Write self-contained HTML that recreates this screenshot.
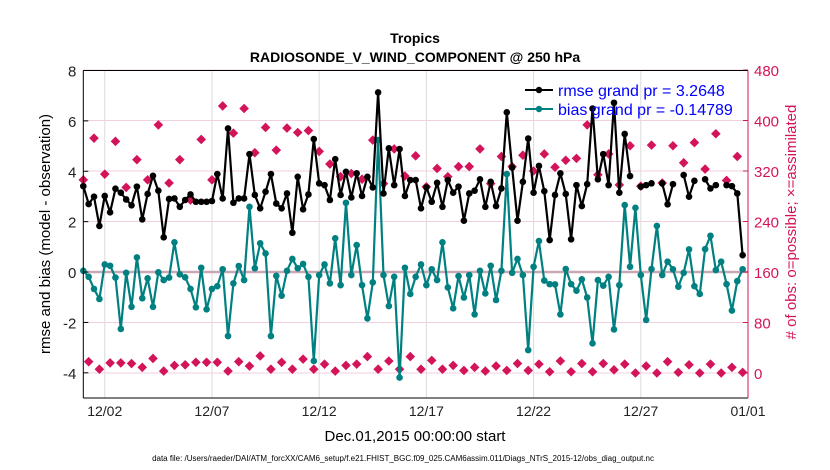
<!DOCTYPE html>
<html><head><meta charset="utf-8"><style>
body{margin:0;background:#fff;}
svg{display:block;font-family:"Liberation Sans",sans-serif;}
</style></head><body>
<svg id="chart" width="830" height="470" viewBox="0 0 830 470" xmlns="http://www.w3.org/2000/svg">
<text x="415" y="43" text-anchor="middle" font-size="14" font-weight="bold">Tropics</text>
<text x="415" y="62" text-anchor="middle" font-size="14" font-weight="bold">RADIOSONDE_V_WIND_COMPONENT @ 250 hPa</text>
<g id="grid"></g>
<g id="marks"></g>
<g id="axes"></g>
<text transform="translate(50,234) rotate(-90)" text-anchor="middle" font-size="15">rmse and bias (model - observation)</text>
<text transform="translate(796,222) rotate(-90)" text-anchor="middle" font-size="15" fill="#d4145a"># of obs: o=possible; ×=assimilated</text>
<text x="415" y="441" text-anchor="middle" font-size="15">Dec.01,2015 00:00:00 start</text>
<text x="403" y="461" text-anchor="middle" font-size="8">data file: /Users/raeder/DAI/ATM_forcXX/CAM6_setup/f.e21.FHIST_BGC.f09_025.CAM6assim.011/Diags_NTrS_2015-12/obs_diag_output.nc</text>
<g>
<line x1="525" y1="90" x2="553" y2="90" stroke="#000" stroke-width="2"/><circle cx="539" cy="90" r="3.2" fill="#000"/>
<text x="558" y="96" font-size="16" fill="#0000ff">rmse grand pr = 3.2648</text>
<line x1="525" y1="109" x2="553" y2="109" stroke="#008080" stroke-width="2"/><circle cx="539" cy="109" r="3.2" fill="#008080"/>
<text x="558" y="115" font-size="16" fill="#0000ff">bias grand pr = -0.14789</text>
</g>
</svg>
<script>
const rmse=[3.41,2.70,2.99,1.83,3.02,2.37,3.31,3.15,2.88,2.65,3.39,2.09,3.10,3.82,3.23,1.38,2.90,2.92,2.59,2.86,3.08,2.79,2.79,2.79,2.82,3.89,2.92,5.70,2.75,2.92,2.92,4.68,3.06,2.53,3.19,3.89,2.72,2.53,3.12,1.56,3.78,2.49,3.08,5.28,3.52,3.45,2.86,4.48,3.06,3.98,2.96,3.92,3.02,3.78,3.36,7.13,3.12,4.91,3.45,4.88,3.02,3.65,3.65,2.53,3.36,2.79,3.54,2.59,3.65,3.15,3.39,2.04,3.12,3.23,3.68,2.59,3.58,2.62,3.32,6.34,4.15,2.04,3.58,5.30,3.15,4.21,3.21,1.27,3.06,3.92,3.10,1.30,3.45,2.62,3.49,6.49,3.68,4.68,3.45,6.72,3.15,5.48,3.81,null,3.39,3.45,3.52,null,3.52,2.69,3.49,null,3.85,2.99,3.62,null,3.68,3.32,3.45,null,3.45,3.41,3.12,0.67];
const bias=[0.05,-0.19,-0.67,-1.07,0.30,0.25,-0.22,-2.26,-0.03,-1.38,0.58,-1.04,-0.25,-1.38,-0.01,-0.32,-0.22,1.18,-0.09,-0.21,-0.67,-1.40,0.17,-1.48,-0.67,-0.56,0.11,-2.54,-0.45,0.24,-0.32,2.59,0.15,1.14,0.74,-2.54,-0.15,-0.94,0.05,0.52,0.15,0.32,-0.19,-3.53,-0.12,0.30,-0.45,1.34,-0.52,2.75,-0.12,1.07,-0.52,-1.84,-0.41,5.24,-0.12,-1.35,-0.19,-4.19,0.17,-0.87,-0.19,0.30,-0.52,0.11,-0.32,1.18,-0.61,-1.44,-0.16,-1.01,-0.12,-1.68,0.05,-0.85,0.25,-1.11,0.05,3.89,-0.03,0.52,-0.12,-3.10,0.21,1.23,-0.34,-0.48,-0.49,-1.68,0.12,-0.48,-0.74,-0.29,-1.01,-2.83,-0.32,-0.54,-0.19,-2.28,-0.52,2.66,0.21,2.55,-0.12,-1.90,0.12,1.83,-0.12,0.41,0.11,-0.58,-0.03,0.90,-0.56,-0.87,0.91,1.44,0.08,0.41,-0.48,-1.53,-0.36,0.11];
const obsPossible=[306,372,315,367,294,338,306,393,301,338,274,370,306,423,380,419,349,389,353,388,381,384,351,331,311,316,307,369,300,355,312,344,295,324,311,327,327,355,300,343,327,345,320,347,326,337,340,393,314,347,298,360,296,361,301,360,333,365,323,379,305,343];
const obsAssim=[18,6,16,16,15,9,23,3,12,13,17,17,17,3,18,11,27,6,17,6,22,6,14,3,12,14,26,6,19,6,26,6,20,6,12,4,9,3,11,4,15,4,14,2,19,2,15,2,15,5,14,0,11,0,18,1,13,0,14,0,9,1];
const leftTicks=[-4,-2,0,2,4,6,8];
const rightTicks=[0,80,160,240,320,400,480];
const dateLabels=["12/02","12/07","12/12","12/17","12/22","12/27","01/01"];
const dateDays=[1,6,11,16,21,26,31];

const X0=83.3,X1=748,T=31,Y0=70.5,Y1=398;
const xS=d=>X0+(X1-X0)*d/T;
const yL=v=>Y0+(Y1-Y0)*(8-v)/13;
const yR=v=>373-(v)*(303/480);
const NS="http://www.w3.org/2000/svg";
function mk(tag,attrs,parent){const e=document.createElementNS(NS,tag);for(const k in attrs)e.setAttribute(k,attrs[k]);parent.appendChild(e);return e;}
const grid=document.getElementById('grid'),marks=document.getElementById('marks'),axes=document.getElementById('axes');
dateDays.forEach((d,i)=>{
  const g=mk('line',{x1:xS(d),x2:xS(d),y1:Y0,y2:Y1,stroke:'#dcdcdc','stroke-width':1},grid);
  
  
  const t=mk('text',{x:xS(d),y:416,'text-anchor':'middle','font-size':14,fill:'#222'},axes);
  t.textContent=dateLabels[i];
  
  
});
rightTicks.forEach(v=>{
  const g=mk('line',{x1:X0,x2:X1,y1:yR(v),y2:yR(v),stroke:'#f2cfe0','stroke-width':1},grid);
  
  
  mk('line',{x1:X1-5,x2:X1,y1:yR(v),y2:yR(v),stroke:'#d4145a'},axes);
  const t=mk('text',{x:X1+6,y:yR(v)+6,'font-size':15,fill:'#d4145a'},axes);
  t.textContent=v;
  
  
});
leftTicks.forEach(v=>{
  mk('line',{x1:X0,x2:X0+5,y1:yL(v),y2:yL(v),stroke:'#000'},axes);
  const t=mk('text',{x:X0-7,y:yL(v)+6,'text-anchor':'end','font-size':15,fill:'#222'},axes);
  t.textContent=v;
  
  
});
const zl=mk('line',{x1:X0,x2:X1,y1:yL(0),y2:yL(0),stroke:'#c8a8b4','stroke-width':2.5},grid);


function diamond(cx,cy,name){
  const r=4.8;
  const p=mk('path',{d:`M${cx} ${cy-r}L${cx+r} ${cy}L${cx} ${cy+r}L${cx-r} ${cy}Z`,fill:'#d4145a'},marks);
  
  
}
obsPossible.forEach((v,j)=>diamond(xS(j/2),yR(v),'obs-possible-marker'));
obsAssim.forEach((v,j)=>diamond(xS((2*j+1)/4),yR(v),'obs-assimilated-marker'));
function series(arr,color,name){
  let d='',pen=false;
  arr.forEach((v,i)=>{if(v===null){pen=false;return;}d+=(pen?'L':'M')+xS(i/4).toFixed(1)+' '+yL(v).toFixed(1);pen=true;});
  const p=mk('path',{d:d,fill:'none',stroke:color,'stroke-width':2.2,'stroke-linejoin':'round'},marks);
  
  
  arr.forEach((v,i)=>{if(v===null)return;
    const c=mk('circle',{cx:xS(i/4),cy:yL(v),r:3.3,fill:color},marks);
    
    
  });
}
series(bias,'#008080','bias');
series(rmse,'#000000','rmse');
const l1=mk('line',{x1:X0,x2:X0,y1:Y0,y2:Y1,stroke:'#000'},axes);


const l2=mk('line',{x1:X0,x2:X1,y1:Y1,y2:Y1,stroke:'#000'},axes);


const l3=mk('line',{x1:X0,x2:X1,y1:Y0,y2:Y0,stroke:'#000'},axes);


const l4=mk('line',{x1:X1,x2:X1,y1:Y0,y2:Y1,stroke:'#d4145a'},axes);


</script>
</body></html>
